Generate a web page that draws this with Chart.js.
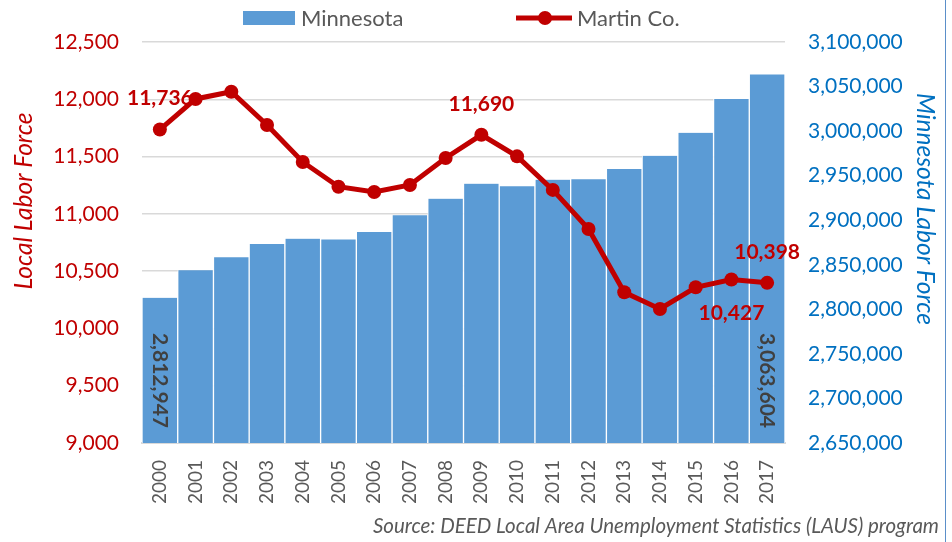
<!DOCTYPE html>
<html>
<head>
<meta charset="utf-8">
<script src="https://cdn.jsdelivr.net/npm/chart.js@4.4.0/dist/chart.umd.min.js"></script>
<style>
  html, body { margin: 0; padding: 0; background: #fff; }
  #wrap { width: 952px; height: 542px; }
</style>
</head>
<body>
<div id="wrap"><canvas id="grafico" width="952" height="542"></canvas></div>
<script>
// Dados
const anos = ["2000", "2001", "2002", "2003", "2004", "2005", "2006", "2007", "2008",
              "2009", "2010", "2011", "2012", "2013", "2014", "2015", "2016", "2017"];
const minnesota = [2812947, 2843800, 2858400, 2873300, 2879300, 2878500, 2886800, 2905500, 2924200,
                   2941000, 2938100, 2945500, 2945900, 2957500, 2972400, 2998200, 3036000, 3063604];
const martinCo = [11736, 12003, 12066, 11776, 11453, 11237, 11191, 11252, 11488,
                  11690, 11502, 11209, 10868, 10316, 10170, 10359, 10427, 10398];

// Quais pontos recebem rótulo
const rotulosMartin = [0, 9, 16, 17];
const posicaoMartin = ["above", "above", "below", "above"];
const rotulosMinnesota = [0, 17];

const fonte = "Lato, 'Open Sans', sans-serif";
const vermelho = "#C00000";
const azul = "#0070C0";
const azulBarra = "#5B9BD5";
const cinza = "#595959";

const fmt = v => Number(v).toLocaleString("en-US");

// Rótulos de dados
const rotulosPlugin = {
    id: "rotulos",
    afterDatasetsDraw(chart) {
        const ctx = chart.ctx;
        ctx.save();
        ctx.font = `bold 21px ${fonte}`;
        ctx.textBaseline = "middle";

        // Minnesota (vertical, dentro da barra)
        const metaBarra = chart.getDatasetMeta(0);
        const base = chart.chartArea.bottom;
        ctx.fillStyle = "#404040";
        rotulosMinnesota.forEach(i => {
            const el = metaBarra.data[i];
            ctx.save();
            ctx.translate(el.x, base - 15);
            ctx.rotate(Math.PI / 2);
            ctx.textAlign = "right";
            ctx.fillText(fmt(minnesota[i]), 0, 0);
            ctx.restore();
        });

        // Martin Co.
        const metaLinha = chart.getDatasetMeta(1);
        ctx.fillStyle = vermelho;
        ctx.textAlign = "center";
        rotulosMartin.forEach((i, k) => {
            const el = metaLinha.data[i];
            const dy = posicaoMartin[k] === "below" ? 34 : -31;
            ctx.fillText(fmt(martinCo[i]), el.x, el.y + dy);
        });
        ctx.restore();
    }
};

// Legenda, títulos dos eixos e fonte
const extrasPlugin = {
    id: "extras",
    afterDraw(chart) {
        const ctx = chart.ctx;
        ctx.save();

        // legenda
        ctx.font = `22px ${fonte}`;
        ctx.textBaseline = "middle";
        ctx.textAlign = "left";
        const y = 18;
        ctx.fillStyle = azulBarra;
        ctx.fillRect(243, y - 7, 52, 14);
        ctx.fillStyle = cinza;
        ctx.fillText("Minnesota", 301, y + 1);
        ctx.strokeStyle = vermelho;
        ctx.lineWidth = 5;
        ctx.beginPath();
        ctx.moveTo(516, y);
        ctx.lineTo(572, y);
        ctx.stroke();
        ctx.fillStyle = vermelho;
        ctx.beginPath();
        ctx.arc(545, y, 7, 0, Math.PI * 2);
        ctx.fill();
        ctx.fillStyle = cinza;
        ctx.fillText("Martin Co.", 577, y + 1);

        // títulos dos eixos
        ctx.font = `italic 24.5px ${fonte}`;
        ctx.textAlign = "center";
        ctx.fillStyle = vermelho;
        ctx.save();
        ctx.translate(24, 201);
        ctx.rotate(-Math.PI / 2);
        ctx.fillText("Local Labor Force", 0, 0);
        ctx.restore();
        ctx.fillStyle = azul;
        ctx.save();
        ctx.translate(925, 209);
        ctx.rotate(Math.PI / 2);
        ctx.fillText("Minnesota Labor Force", 0, 0);
        ctx.restore();

        // fonte dos dados
        ctx.font = `italic 20.5px ${fonte}`;
        ctx.fillStyle = cinza;
        ctx.textAlign = "right";
        ctx.textBaseline = "alphabetic";
        ctx.fillText("Source: DEED Local Area Unemployment Statistics (LAUS) program", 939, 533);

        // borda direita
        ctx.fillStyle = "#5B8FC9";
        ctx.fillRect(945, 0, 1, 542);
        ctx.restore();
    }
};

const ctx = document.getElementById("grafico").getContext("2d");
new Chart(ctx, {
    data: {
        labels: anos,
        datasets: [
            {
                type: "bar",
                label: "Minnesota",
                data: minnesota,
                yAxisID: "y1",
                backgroundColor: azulBarra,
                borderColor: "#ffffff",
                borderWidth: { left: 1, right: 1, top: 0, bottom: 0 },
                borderSkipped: false,
                barPercentage: 1,
                categoryPercentage: 1,
                order: 2
            },
            {
                type: "line",
                label: "Martin Co.",
                data: martinCo,
                yAxisID: "y",
                borderColor: vermelho,
                backgroundColor: vermelho,
                borderWidth: 5,
                pointRadius: 7,
                pointHoverRadius: 7,
                pointBackgroundColor: vermelho,
                pointBorderWidth: 0,
                tension: 0,
                order: 1
            }
        ]
    },
    options: {
        responsive: false,
        animation: false,
        devicePixelRatio: 1,
        layout: { padding: { top: 42, bottom: 29, left: 0, right: 0 } },
        plugins: {
            legend: { display: false },
            tooltip: { enabled: false }
        },
        scales: {
            x: {
                grid: { display: false, drawTicks: false },
                border: { display: true, color: "#D9D9D9", width: 2 },
                ticks: {
                    color: cinza,
                    font: { family: fonte, size: 19 },
                    minRotation: 90,
                    maxRotation: 90,
                    autoSkip: false,
                    padding: 17
                },
                afterFit(scale) { scale.height = 70; }
            },
            y: {
                position: "left",
                min: 9000,
                max: 12500,
                ticks: {
                    stepSize: 500,
                    color: vermelho,
                    font: { family: fonte, size: 21 },
                    padding: 23,
                    callback: v => fmt(v)
                },
                grid: { color: "#D9D9D9", lineWidth: 1.5, drawTicks: false },
                border: { display: false },
                afterFit(scale) { scale.width = 142; }
            },
            y1: {
                position: "right",
                min: 2650000,
                max: 3100000,
                ticks: {
                    stepSize: 50000,
                    color: azul,
                    font: { family: fonte, size: 21 },
                    padding: 23,
                    callback: v => fmt(v)
                },
                grid: { display: false, drawTicks: false },
                border: { display: false },
                afterFit(scale) { scale.width = 167; }
            }
        }
    },
    plugins: [rotulosPlugin, extrasPlugin]
});
</script>
</body>
</html>
